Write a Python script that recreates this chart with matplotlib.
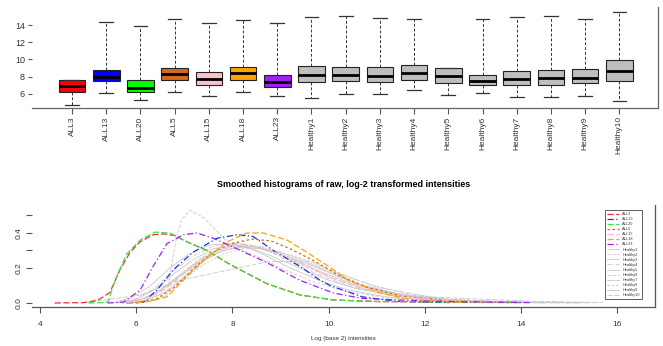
import matplotlib
matplotlib.use("Agg")
import matplotlib.pyplot as plt

plt.rcParams['font.family'] = ['Liberation Sans', 'DejaVu Sans']

# sample names and box colours
samples = ['ALL3', 'ALL13', 'ALL20', 'ALL5', 'ALL15', 'ALL18', 'ALL23',
           'Healthy1', 'Healthy2', 'Healthy3', 'Healthy4', 'Healthy5',
           'Healthy6', 'Healthy7', 'Healthy8', 'Healthy9', 'Healthy10']
colors = ['#ff0000', '#0000ff', '#00ff00', '#d2691e', '#ffc0cb', '#ffa500', '#a020f0'] + ['#bebebe'] * 10

# boxplot summaries (log2 intensity)
q1 = [6.24, 7.45, 6.2, 7.6, 7.0, 7.6, 6.76, 7.4, 7.45, 7.33, 7.6, 7.26, 7.0, 7.0, 7.0, 7.22, 7.49]
med = [6.9, 8.0, 6.7, 8.3, 7.7, 8.38, 7.4, 8.22, 8.22, 8.1, 8.38, 8.03, 7.45, 7.76, 7.84, 7.88, 8.65]
q3 = [7.6, 8.77, 7.57, 9.04, 8.53, 9.15, 8.15, 9.2, 9.15, 9.08, 9.3, 8.97, 8.15, 8.65, 8.73, 8.85, 9.9]
wlo = [4.66, 6.06, 5.24, 6.24, 5.8, 6.17, 5.78, 5.55, 6.0, 6.0, 6.44, 5.86, 6.06, 5.67, 5.67, 5.78, 5.2]
whi = [7.6, 14.35, 13.85, 14.7, 14.27, 14.54, 14.27, 14.93, 15.05, 14.8, 14.7, 8.97, 14.7, 14.97, 15.08, 14.7, 15.47]

# density curves (x = log2 intensity, y = density)
dens_x = {
    'ALL3': [4.3, 4.9, 5.2, 5.45, 5.66, 5.87, 6.08, 6.35, 6.56, 6.8, 7.05, 7.47, 7.89, 8.16, 8.72, 9.4, 10.1, 11.0, 12.5, 14.0],
    'ALL13': [5.8, 6.15, 6.43, 6.77, 7.18, 7.68, 8.1, 8.43, 8.85, 9.4, 9.82, 10.03, 10.7, 11.4, 12.5],
    'ALL20': [5.0, 5.3, 5.41, 5.56, 5.8, 6.08, 6.39, 6.7, 7.05, 7.47, 7.89, 8.16, 8.72, 9.4, 10.1, 11.0, 12.5, 14.0],
    'ALL5': [6.0, 6.4, 6.8, 7.2, 7.6, 8.0, 8.4, 8.8, 9.2, 9.7, 10.2, 10.8, 11.5, 12.5, 13.5],
    'ALL15': [5.8, 6.2, 6.6, 7.0, 7.4, 7.8, 8.2, 8.6, 9.0, 9.5, 10.0, 10.6, 11.3, 12.3, 13.5],
    'ALL18': [6.0, 6.3, 6.64, 7.05, 7.47, 7.89, 8.3, 8.64, 9.13, 9.55, 10.1, 10.4, 11.07, 11.75, 12.8],
    'ALL23': [5.4, 5.73, 6.08, 6.35, 6.64, 6.98, 7.26, 7.6, 8.01, 8.72, 9.4, 10.1, 10.7, 12.1, 14.2],
    'Healthy1': [5.6, 6.0, 6.4, 6.8, 7.2, 7.6, 8.0, 8.4, 8.8, 9.4, 10.0, 10.6, 11.4, 12.4, 13.5, 14.5],
    'Healthy2': [5.7, 6.1, 6.5, 6.9, 7.3, 7.7, 8.1, 8.5, 8.9, 9.5, 10.1, 10.7, 11.5, 12.5, 13.6, 15.0],
    'Healthy3': [5.8, 6.2, 6.6, 7.0, 7.4, 7.8, 8.2, 8.6, 9.0, 9.6, 10.2, 10.8, 11.6, 12.6, 13.8, 15.2],
    'Healthy4': [5.6, 6.0, 6.4, 6.8, 7.2, 7.6, 8.0, 8.4, 8.8, 9.3, 9.9, 10.5, 11.3, 12.3, 13.5, 15.0],
    'Healthy5': [5.5, 5.9, 6.3, 6.7, 7.1, 7.5, 7.9, 8.3, 8.7, 9.2, 9.8, 10.4, 11.2, 12.2, 13.4, 14.8],
    'Healthy6': [5.9, 6.3, 6.64, 6.74, 6.85, 6.95, 7.12, 7.39, 7.68, 7.95, 8.4, 9.0, 9.6, 10.3, 11.2, 12.5, 14.0],
    'Healthy7': [5.7, 6.1, 6.5, 6.9, 7.3, 7.7, 8.1, 8.5, 9.0, 9.5, 10.0, 10.6, 11.4, 12.4, 13.6, 15.4],
    'Healthy8': [5.8, 6.2, 6.6, 7.0, 7.4, 7.8, 8.2, 8.6, 9.0, 9.5, 10.0, 10.7, 11.5, 12.5, 13.8, 15.6],
    'Healthy9': [5.7, 6.1, 6.5, 6.9, 7.3, 7.7, 8.1, 8.5, 8.9, 9.4, 10.0, 10.6, 11.4, 12.4, 13.6, 15.2],
    'Healthy10': [4.9, 6.08, 6.91, 8.72, 9.6, 10.03, 11.0, 12.1, 14.2, 15.7],
}
dens_y = {
    'ALL3': [0, 0.002, 0.015, 0.06, 0.19, 0.29, 0.35, 0.39, 0.395, 0.385, 0.35, 0.30, 0.23, 0.19, 0.11, 0.046, 0.017, 0.008, 0.004, 0.002],
    'ALL13': [0, 0.005, 0.074, 0.19, 0.29, 0.37, 0.39, 0.38, 0.30, 0.21, 0.13, 0.10, 0.035, 0.01, 0.002],
    'ALL20': [0, 0.002, 0.006, 0.13, 0.28, 0.36, 0.405, 0.40, 0.35, 0.30, 0.23, 0.19, 0.11, 0.046, 0.017, 0.009, 0.006, 0.004],
    'ALL5': [0, 0.02, 0.09, 0.20, 0.29, 0.34, 0.365, 0.355, 0.31, 0.24, 0.16, 0.09, 0.04, 0.012, 0.003],
    'ALL15': [0, 0.02, 0.08, 0.17, 0.26, 0.32, 0.335, 0.32, 0.28, 0.22, 0.15, 0.09, 0.045, 0.015, 0.003],
    'ALL18': [0, 0.01, 0.036, 0.15, 0.26, 0.35, 0.40, 0.40, 0.36, 0.29, 0.19, 0.13, 0.057, 0.017, 0.003],
    'ALL23': [0, 0.005, 0.074, 0.21, 0.34, 0.39, 0.40, 0.37, 0.32, 0.23, 0.13, 0.057, 0.026, 0.01, 0.002],
    'Healthy1': [0, 0.02, 0.08, 0.17, 0.25, 0.31, 0.33, 0.31, 0.27, 0.20, 0.13, 0.08, 0.04, 0.015, 0.005, 0.0],
    'Healthy2': [0, 0.02, 0.07, 0.16, 0.25, 0.31, 0.34, 0.32, 0.28, 0.21, 0.14, 0.085, 0.04, 0.016, 0.005, 0.001],
    'Healthy3': [0, 0.015, 0.06, 0.15, 0.24, 0.30, 0.32, 0.31, 0.28, 0.22, 0.15, 0.09, 0.045, 0.018, 0.006, 0.001],
    'Healthy4': [0, 0.025, 0.09, 0.19, 0.27, 0.325, 0.345, 0.33, 0.29, 0.22, 0.15, 0.09, 0.045, 0.017, 0.005, 0.001],
    'Healthy5': [0, 0.03, 0.10, 0.20, 0.28, 0.33, 0.34, 0.32, 0.27, 0.20, 0.13, 0.075, 0.035, 0.013, 0.004, 0.001],
    'Healthy6': [0, 0.015, 0.045, 0.23, 0.39, 0.48, 0.53, 0.49, 0.41, 0.33, 0.28, 0.20, 0.13, 0.07, 0.03, 0.01, 0.002],
    'Healthy7': [0, 0.02, 0.07, 0.15, 0.23, 0.29, 0.32, 0.32, 0.29, 0.24, 0.18, 0.11, 0.055, 0.02, 0.006, 0.001],
    'Healthy8': [0, 0.015, 0.06, 0.14, 0.22, 0.28, 0.31, 0.31, 0.29, 0.25, 0.19, 0.12, 0.06, 0.022, 0.006, 0.001],
    'Healthy9': [0, 0.02, 0.075, 0.16, 0.24, 0.30, 0.33, 0.32, 0.29, 0.23, 0.16, 0.10, 0.05, 0.018, 0.005, 0.001],
    'Healthy10': [0, 0.045, 0.13, 0.235, 0.24, 0.19, 0.09, 0.035, 0.01, 0.003],
}
line_colors = ['#e8303a', '#2030e0', '#40e040', '#d2691e', '#ffb6c1', '#ffa500', '#a020f0'] + ['#c8c8c8'] * 10
line_styles = [(0, (5, 2)), (0, (5, 2, 1, 2)), (0, (5, 2)), (0, (2, 2)), (0, (5, 2)), (0, (5, 2)), (0, (5, 2, 1, 2)),
               '-', (0, (4, 2)), '-', (0, (5, 2, 1, 2)), '-', (0, (4, 2)), '-', (0, (3, 2)), '-', (0, (6, 2))]

fig = plt.figure(figsize=(6.63, 3.46), dpi=100)
W, H = 663, 346
tc = '#333333'

# ---- top: boxplots
ax1 = fig.add_axes([32 / W, 1 - 108 / H, (658 - 32) / W, (108 - 7) / H])
stats = []
for i in range(len(samples)):
    stats.append(dict(label=samples[i], q1=q1[i], med=med[i], q3=q3[i], whislo=wlo[i], whishi=whi[i], fliers=[]))
pos = list(range(1, len(samples) + 1))
bp = ax1.bxp(stats, positions=pos, widths=0.78, capwidths=0.4, patch_artist=True, showfliers=False,
             boxprops=dict(edgecolor='#222222', linewidth=0.8),
             whiskerprops=dict(color='#333333', linewidth=0.7, linestyle=(0, (3, 2))),
             capprops=dict(color='#333333', linewidth=0.9),
             medianprops=dict(color='black', linewidth=2))
for patch, c in zip(bp['boxes'], colors):
    patch.set_facecolor(c)
ax1.set_xlim(-0.17, 18.13)
ax1.set_ylim(4.35, 16.1)
ax1.set_xticks(pos)
ax1.set_xticklabels(samples, rotation=90, fontsize=6, color=tc)
ax1.set_yticks([6, 8, 10, 12, 14])
ax1.set_yticklabels(['6', '8', '10', '12', '14'], fontsize=6.5, color=tc)
ax1.tick_params(axis='x', length=4, width=0.8, color='#555555', pad=2)
ax1.tick_params(axis='y', length=3, width=0.8, color='#555555', pad=2)
for s in ['top', 'left']:
    ax1.spines[s].set_visible(False)
for s in ['bottom', 'right']:
    ax1.spines[s].set_color('#666666')
    ax1.spines[s].set_linewidth(0.9)

# ---- bottom: smoothed histograms
ax2 = fig.add_axes([32 / W, 1 - 307 / H, (655 - 32) / W, (307 - 205) / H])
for i, s in enumerate(samples):
    ax2.plot(dens_x[s], dens_y[s], color=line_colors[i], linestyle=line_styles[i],
             linewidth=0.9 if i < 7 else 0.6, label=s, zorder=3 if i < 7 else 2)
ax2.set_xlim(3.83, 16.79)
ax2.set_ylim(-0.023, 0.56)
ax2.set_xticks([4, 6, 8, 10, 12, 14, 16])
ax2.set_xticklabels(['4', '6', '8', '10', '12', '14', '16'], fontsize=6, color=tc)
ax2.set_yticks([0.0, 0.2, 0.3, 0.4, 0.5])
ax2.set_yticklabels(['0.0', '0.2', '', '0.4', ''], fontsize=6, color=tc, rotation=90, va='center')
ax2.tick_params(axis='x', length=4, width=0.8, color='#555555', pad=6)
ax2.tick_params(axis='y', length=4, width=0.8, color='#555555', pad=3)
for s in ['top', 'left']:
    ax2.spines[s].set_visible(False)
for s in ['bottom', 'right']:
    ax2.spines[s].set_color('#555555')
    ax2.spines[s].set_linewidth(0.9)
ax2.set_title('Smoothed histograms of raw, log-2 transformed intensities', fontsize=6.5,
              fontweight='bold', pad=13)
ax2.set_xlabel('Log (base 2) intensities', fontsize=4.5, color=tc, labelpad=6)

leg = ax2.legend(loc='upper left', bbox_to_anchor=(603 / W, 1 - 208 / H), bbox_transform=fig.transFigure,
                 fontsize=2.8, handlelength=3.2, handletextpad=0.8, labelspacing=0.28, borderpad=0.5,
                 fancybox=False, framealpha=1, edgecolor='#444444')
leg.get_frame().set_linewidth(0.6)
for t in leg.get_texts():
    t.set_color('#334')

fig.savefig('out.png', dpi=100)
